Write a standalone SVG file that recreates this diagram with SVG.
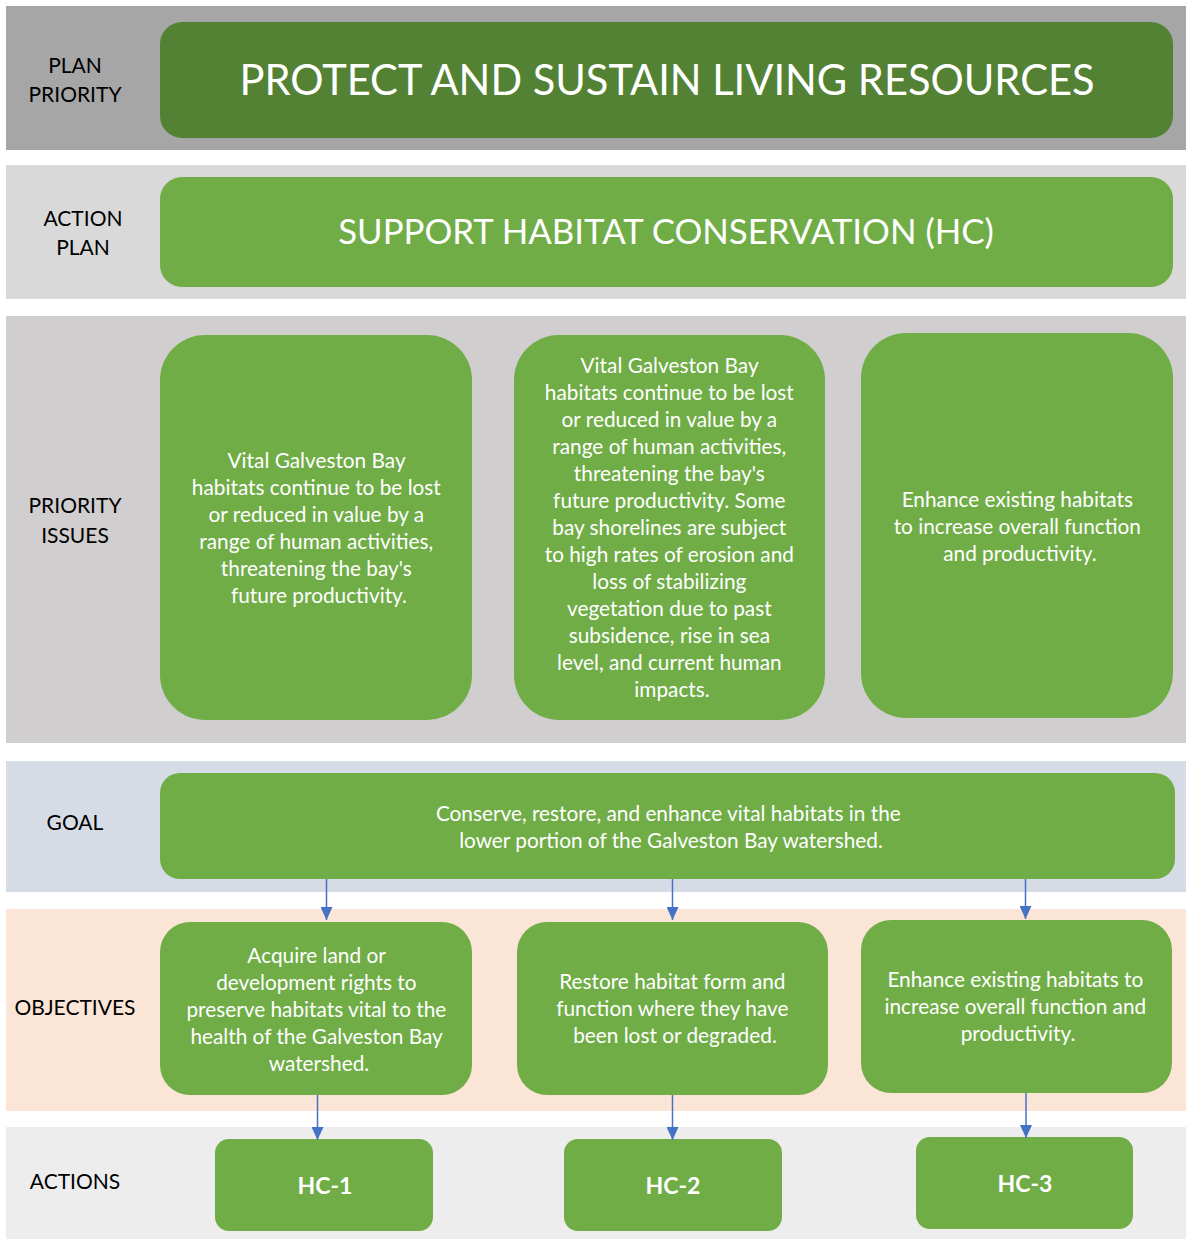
<svg xmlns="http://www.w3.org/2000/svg" width="1186" height="1239" viewBox="0 0 1186 1239">
  <defs>
    <marker id="arrow" viewBox="0 0 13 12" refX="13" refY="6" markerWidth="13" markerHeight="12" markerUnits="userSpaceOnUse" orient="auto">
      <path d="M0,0 L13,6 L0,12 Z" fill="#4472c4"/>
    </marker>
    <style>
      .lbl { font-family: Lato, "Liberation Sans", sans-serif; font-size: 21px; fill: #000; text-anchor: middle; }
      .txt { font-family: Lato, "Liberation Sans", sans-serif; font-size: 20.8px; fill: #fff; text-anchor: middle; }
      .hc  { font-family: Lato, "Liberation Sans", sans-serif; font-size: 23px; font-weight: bold; fill: #fff; text-anchor: middle; }
      .box { fill: #70ad47; }
      .conn { stroke: #4472c4; stroke-width: 1.5; fill: none; marker-end: url(#arrow); }
    </style>
  </defs>

  <rect width="1186" height="1239" fill="#ffffff"/>

  <!-- row bands -->
  <g id="bands">
    <rect x="6" y="6" width="1180" height="144" fill="#a6a6a6"/>
    <rect x="6" y="165" width="1180" height="134" fill="#d9d9d9"/>
    <rect x="6" y="316" width="1180" height="427" fill="#d0cece"/>
    <rect x="6" y="761" width="1180" height="131" fill="#d6dce5"/>
    <rect x="6" y="909" width="1180" height="202" fill="#fbe5d6"/>
    <rect x="6" y="1127" width="1180" height="112" fill="#ededed"/>
  </g>

  <!-- row labels -->
  <g id="labels">
    <text class="lbl" x="75" y="73">PLAN</text>
    <text class="lbl" x="75" y="102">PRIORITY</text>
    <text class="lbl" x="83" y="226">ACTION</text>
    <text class="lbl" x="83" y="255">PLAN</text>
    <text class="lbl" x="75" y="513">PRIORITY</text>
    <text class="lbl" x="75" y="543">ISSUES</text>
    <text class="lbl" x="75" y="830">GOAL</text>
    <text class="lbl" x="75" y="1015">OBJECTIVES</text>
    <text class="lbl" x="75" y="1189">ACTIONS</text>
  </g>

  <g id="plan-priority">
    <rect x="160" y="22" width="1013" height="116" rx="22" fill="#548235"/>
    <text x="667" y="95" font-family="Lato, 'Liberation Sans', sans-serif" font-size="41.6" fill="#fff" text-anchor="middle">PROTECT AND SUSTAIN LIVING RESOURCES</text>
  </g>

  <g id="action-plan">
    <rect class="box" x="160" y="177" width="1013" height="110" rx="22"/>
    <text x="666" y="244" font-family="Lato, 'Liberation Sans', sans-serif" font-size="34.8" fill="#fff" text-anchor="middle">SUPPORT HABITAT CONSERVATION (HC)</text>
  </g>

  <g id="issue-1">
    <rect class="box" x="160" y="335" width="312" height="385" rx="45"/>
    <text class="txt">
      <tspan x="319" y="468">Vital Galveston Bay</tspan>
      <tspan x="319" y="495">habitats continue to be lost</tspan>
      <tspan x="319" y="522">or reduced in value by a</tspan>
      <tspan x="319" y="549">range of human activities,</tspan>
      <tspan x="319" y="576">threatening the bay's</tspan>
      <tspan x="319" y="603">future productivity.</tspan>
    </text>
  </g>

  <g id="issue-2">
    <rect class="box" x="514" y="335" width="311" height="385" rx="45"/>
    <text class="txt">
      <tspan x="672" y="373">Vital Galveston Bay</tspan>
      <tspan x="672" y="400">habitats continue to be lost</tspan>
      <tspan x="672" y="427">or reduced in value by a</tspan>
      <tspan x="672" y="454">range of human activities,</tspan>
      <tspan x="672" y="481">threatening the bay's</tspan>
      <tspan x="672" y="508">future productivity. Some</tspan>
      <tspan x="672" y="535">bay shorelines are subject</tspan>
      <tspan x="672" y="562">to high rates of erosion and</tspan>
      <tspan x="672" y="589">loss of stabilizing</tspan>
      <tspan x="672" y="616">vegetation due to past</tspan>
      <tspan x="672" y="643">subsidence, rise in sea</tspan>
      <tspan x="672" y="670">level, and current human</tspan>
      <tspan x="672" y="697">impacts.</tspan>
    </text>
  </g>

  <g id="issue-3">
    <rect class="box" x="861" y="333" width="312" height="385" rx="45"/>
    <text class="txt">
      <tspan x="1020" y="507">Enhance existing habitats</tspan>
      <tspan x="1020" y="534">to increase overall function</tspan>
      <tspan x="1020" y="561">and productivity.</tspan>
    </text>
  </g>

  <g id="goal">
    <rect class="box" x="160" y="773" width="1015" height="106" rx="20"/>
    <text class="txt">
      <tspan x="671" y="821">Conserve, restore, and enhance vital habitats in the</tspan>
      <tspan x="671" y="848">lower portion of the Galveston Bay watershed.</tspan>
    </text>
  </g>

  <g id="objective-1">
    <rect class="box" x="160" y="922" width="312" height="173" rx="30"/>
    <text class="txt">
      <tspan x="319" y="963">Acquire land or</tspan>
      <tspan x="319" y="990">development rights to</tspan>
      <tspan x="319" y="1017">preserve habitats vital to the</tspan>
      <tspan x="319" y="1044">health of the Galveston Bay</tspan>
      <tspan x="319" y="1071">watershed.</tspan>
    </text>
  </g>

  <g id="objective-2">
    <rect class="box" x="517" y="922" width="311" height="173" rx="30"/>
    <text class="txt">
      <tspan x="675" y="989">Restore habitat form and</tspan>
      <tspan x="675" y="1016">function where they have</tspan>
      <tspan x="675" y="1043">been lost or degraded.</tspan>
    </text>
  </g>

  <g id="objective-3">
    <rect class="box" x="861" y="920" width="311" height="173" rx="30"/>
    <text class="txt">
      <tspan x="1018" y="987">Enhance existing habitats to</tspan>
      <tspan x="1018" y="1014">increase overall function and</tspan>
      <tspan x="1018" y="1041">productivity.</tspan>
    </text>
  </g>

  <g id="hc-1">
    <rect class="box" x="215" y="1139" width="218" height="92" rx="14"/>
    <text class="hc" x="325" y="1194">HC-1</text>
  </g>
  <g id="hc-2">
    <rect class="box" x="564" y="1139" width="218" height="92" rx="14"/>
    <text class="hc" x="673" y="1194">HC-2</text>
  </g>
  <g id="hc-3">
    <rect class="box" x="916" y="1137" width="217" height="92" rx="14"/>
    <text class="hc" x="1025" y="1192">HC-3</text>
  </g>

  <!-- connectors -->
  <g id="connectors">
    <line class="conn" x1="326.5" y1="879" x2="326.5" y2="920"/>
    <line class="conn" x1="672.5" y1="879" x2="672.5" y2="920"/>
    <line class="conn" x1="1025.5" y1="879" x2="1025.5" y2="919"/>
    <line class="conn" x1="317.5" y1="1095" x2="317.5" y2="1140"/>
    <line class="conn" x1="672.5" y1="1095" x2="672.5" y2="1140"/>
    <line class="conn" x1="1026" y1="1093" x2="1026" y2="1138"/>
  </g>
</svg>
